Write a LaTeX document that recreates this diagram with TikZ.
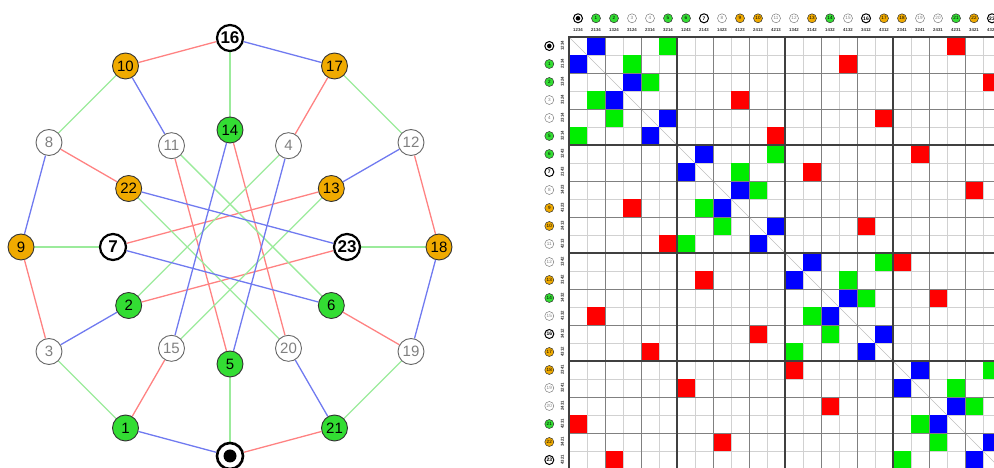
\documentclass[tikz,border=0pt]{standalone}
\usepackage{fontspec}
\setmainfont{Liberation Sans}
\usetikzlibrary{backgrounds}
\definecolor{ngreen}{RGB}{51,221,51}
\definecolor{norange}{RGB}{240,170,0}
\definecolor{ered}{RGB}{255,130,130}
\definecolor{egreen}{RGB}{155,235,155}
\definecolor{eblue}{RGB}{112,122,240}
\definecolor{cred}{RGB}{255,0,0}
\definecolor{cgreen}{RGB}{0,238,0}
\definecolor{cblue}{RGB}{0,0,255}
\tikzset{
  vbase/.style={circle, inner sep=0pt, minimum size=26pt, line width=0.9pt, draw=black!80,
                font=\fontsize{15}{15}\selectfont},
  vg/.style={vbase, fill=ngreen},
  vo/.style={vbase, fill=norange},
  vw/.style={vbase, fill=white, draw=black!60, text=black!50},
  vb/.style={vbase, fill=white, draw=black, line width=2.2pt, font=\bfseries\fontsize{17}{17}\selectfont},
  vz/.style={vbase, fill=white, draw=black, line width=2.6pt,
             path picture={\fill[black] (path picture bounding box.center) circle (6.5pt);}},
  hbase/.style={circle, inner sep=0pt, minimum size=9pt, line width=0.5pt, draw=black!80,
                font=\fontsize{4.6}{4.6}\selectfont},
  hg/.style={hbase, fill=ngreen},
  ho/.style={hbase, fill=norange},
  hw/.style={hbase, fill=white, draw=black!50, text=black!50},
  hb/.style={hbase, fill=white, draw=black, line width=1pt, font=\bfseries\fontsize{5}{5}\selectfont},
  hz/.style={hbase, fill=white, draw=black, line width=1pt,
             path picture={\fill[black] (path picture bounding box.center) circle (2.3pt);}},
  hlab/.style={inner sep=0pt, font=\bfseries\fontsize{4.3}{4.3}\selectfont, text=black!80},
  redge/.style={draw=ered, line width=1.3pt},
  gedge/.style={draw=egreen, line width=1.3pt},
  bedge/.style={draw=eblue, line width=1.3pt},
  gridthin/.style={draw=black!18, line width=0.5pt},
  gridmid/.style={draw=black!50, line width=0.6pt},
  gridthick/.style={draw=black!75, line width=1.5pt},
}
\begin{document}
\begin{tikzpicture}[x=1pt,y=1pt]
\useasboundingbox (0,0) rectangle (994,468);
\clip (0,0) rectangle (994,468);
% ---------------- graph nodes ----------------
\node[vz] (v0) at ({230+209*cos(-90)},{221+209*sin(-90)}) {};
\foreach \i/\a/\r/\t in {16/90/209/b, 17/60/209/o, 12/30/209/w, 18/0/209/o, 19/-30/209/w,
    21/-60/209/g, 1/-120/209/g, 3/-150/209/w, 9/180/209/o, 8/150/209/w, 10/120/209/o,
    14/90/117/g, 4/60/117/w, 13/30/117/o, 23/0/117/b, 6/-30/117/g, 20/-60/117/w,
    5/-90/117/g, 15/-120/117/w, 2/-150/117/g, 7/180/117/b, 22/150/117/o, 11/120/117/w}
  {\node[v\t] (v\i) at ({230+\r*cos(\a)},{221+\r*sin(\a)}) {\i};}
% ---------------- graph edges ----------------
\begin{scope}[on background layer]
\foreach \a/\b in {16/10, 17/4, 8/22, 12/18, 11/5, 14/20, 13/7, 9/3, 23/2, 6/19, 15/1, 21/0}
  {\draw[redge] (v\a) -- (v\b);}
\foreach \a/\b in {16/14, 10/8, 17/12, 22/20, 11/6, 4/2, 13/15, 9/7, 18/23, 3/1, 5/0, 19/21}
  {\draw[gedge] (v\a) -- (v\b);}
\foreach \a/\b in {16/17, 10/11, 8/9, 12/13, 14/15, 4/5, 22/23, 18/19, 7/6, 2/3, 20/21, 1/0}
  {\draw[bedge] (v\a) -- (v\b);}
\end{scope}
% ---------------- matrix ----------------
\foreach \k in {1,...,23}
  {\draw[gridthin] ({569+18*\k},431) -- ({569+18*\k},-1);
   \draw[gridthin] (569,{431-18*\k}) -- (1001,{431-18*\k});}
\draw[black!25, line width=0.5pt] (569,431) -- (1001,-1);
\foreach \a/\b in {16/10, 17/4, 8/22, 12/18, 11/5, 14/20, 13/7, 9/3, 23/2, 6/19, 15/1, 21/0}
  {\fill[cred] ({569+18*\b},{431-18*\a}) rectangle ++(18,-18);
   \fill[cred] ({569+18*\a},{431-18*\b}) rectangle ++(18,-18);}
\foreach \a/\b in {16/14, 10/8, 17/12, 22/20, 11/6, 4/2, 13/15, 9/7, 18/23, 3/1, 5/0, 19/21}
  {\fill[cgreen] ({569+18*\b},{431-18*\a}) rectangle ++(18,-18);
   \fill[cgreen] ({569+18*\a},{431-18*\b}) rectangle ++(18,-18);}
\foreach \a/\b in {16/17, 10/11, 8/9, 12/13, 14/15, 4/5, 22/23, 18/19, 7/6, 2/3, 20/21, 1/0}
  {\fill[cblue] ({569+18*\b},{431-18*\a}) rectangle ++(18,-18);
   \fill[cblue] ({569+18*\a},{431-18*\b}) rectangle ++(18,-18);}
\foreach \k in {2,4,8,10,14,16,20,22}
  {\draw[gridmid] ({569+18*\k},431) -- ({569+18*\k},-1);
   \draw[gridmid] (569,{431-18*\k}) -- (1001,{431-18*\k});}
\foreach \k in {0,6,12,18,24}
  {\draw[gridthick] ({569+18*\k},431.7) -- ({569+18*\k},-1);
   \draw[gridthick] (568.3,{431-18*\k}) -- (1001,{431-18*\k});}
% ---------------- headers ----------------
\node[hz] (c0) at (578,449.7) {};
\node[hz] (r0) at (549.3,422) {};
\foreach \i/\t in {1/g,2/g,3/w,4/w,5/g,6/g,7/b,8/w,9/o,10/o,11/w,12/w,13/o,14/g,15/w,
    16/b,17/o,18/o,19/w,20/w,21/g,22/o,23/b}
  {\node[h\t] (c\i) at ({578+18*\i},449.7) {\i};
   \node[h\t] (r\i) at (549.3,{422-18*\i}) {\i};}
\foreach \i/\p in {0/1234,1/2134,2/1324,3/3124,4/2314,5/3214,6/1243,7/2143,8/1423,9/4123,
    10/2413,11/4213,12/1342,13/3142,14/1432,15/4132,16/3412,17/4312,18/2341,19/3241,
    20/2431,21/4231,22/3421,23/4321}
  {\node[hlab] (ct\i) at ({578+18*\i},438) {\p};
   \node[hlab, rotate=90] (rt\i) at (562.5,{422-18*\i}) {\p};}
\end{tikzpicture}
\end{document}
